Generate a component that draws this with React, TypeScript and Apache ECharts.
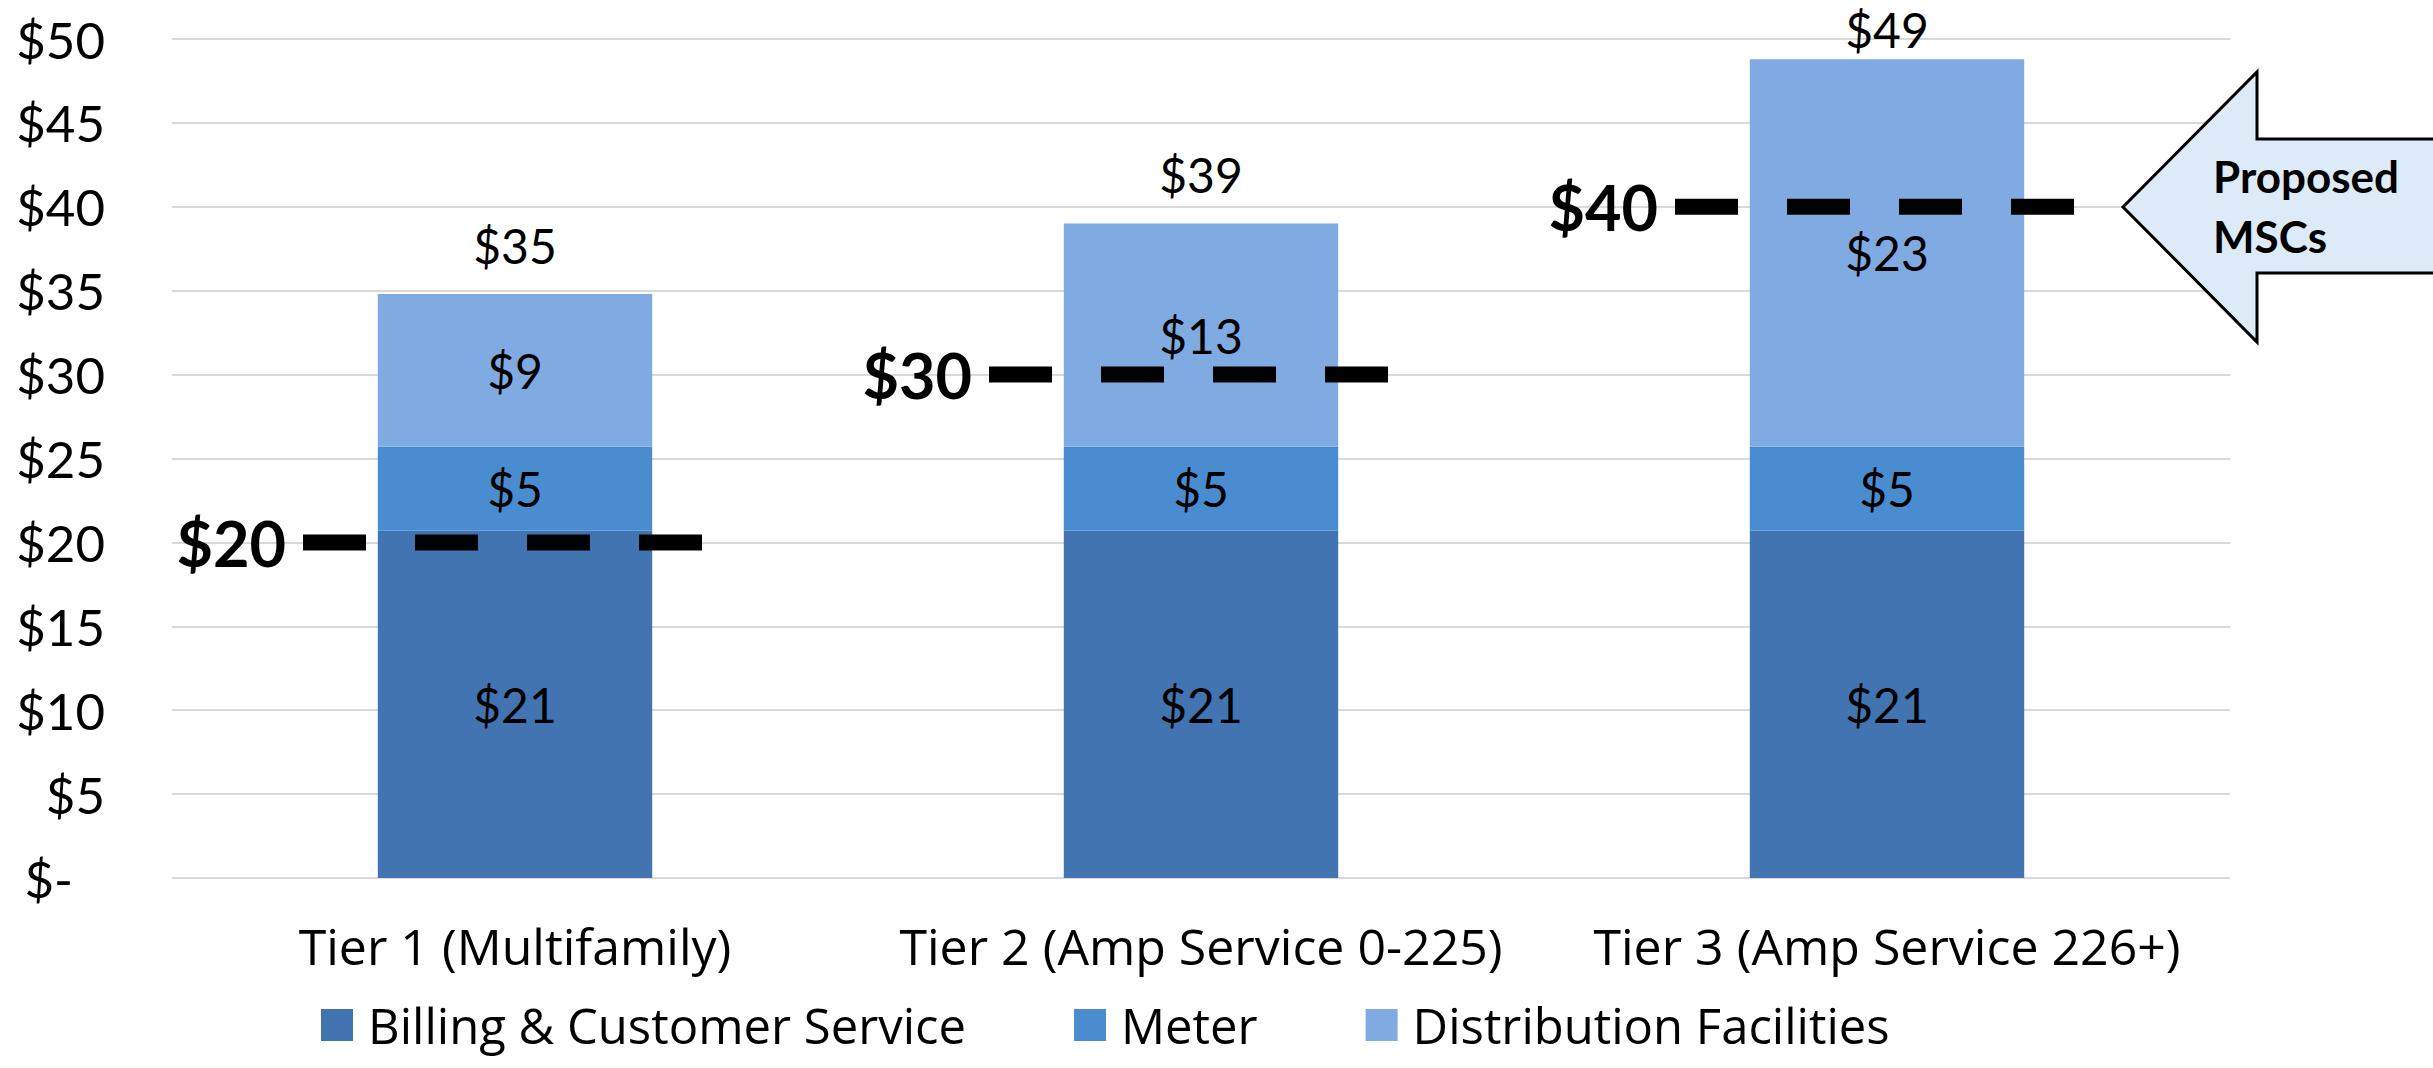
import React, { useEffect, useRef } from "react";
import * as echarts from "echarts";

const categories = ["Tier 1 (Multifamily)", "Tier 2 (Amp Service 0-225)", "Tier 3 (Amp Service 226+)"];
const billing = [20.7, 20.7, 20.7];
const meter = [5.0, 5.0, 5.0];
const distribution = [9.1, 13.3, 23.1];
const proposed = [20, 30, 40];
const seriesNames = ["Billing & Customer Service", "Meter", "Distribution Facilities"];
const colors = ["#4174B0", "#4A8CD0", "#80AAE2"];
const arrowText = "Proposed\nMSCs";

const FONT = "Lato";
const WIDE = "Open Sans";

export default function App() {
  const ref = useRef<HTMLDivElement>(null);
  useEffect(() => {
    const chart = echarts.init(ref.current!, null, { renderer: "svg" });
    const totals = categories.map((_, i) => billing[i] + meter[i] + distribution[i]);
    const money = (v: number) => "$" + Math.round(v);
    const barLabel = {
      show: true,
      position: "inside",
      color: "#000",
      fontSize: 48,
      fontFamily: FONT,
      formatter: (p: any) => money(p.value),
    };
    const mkBar = (name: string, data: number[], color: string) => ({
      name,
      type: "bar",
      stack: "total",
      data,
      barWidth: "40%",
      itemStyle: { color },
      label: barLabel,
    });
    const option: any = {
      animation: false,
      textStyle: { fontFamily: FONT },
      grid: { left: 172, right: 203, top: 39, bottom: 190, containLabel: false },
      legend: {
        data: seriesNames,
        left: 321,
        top: 1000,
        padding: 0,
        icon: "rect",
        itemWidth: 32,
        itemHeight: 32,
        itemGap: 108,
        textStyle: {
          fontSize: 49,
          lineHeight: 50,
          color: "#000",
          fontFamily: WIDE,
          padding: [0, 0, 0, 10],
        },
      },
      xAxis: {
        type: "category",
        data: categories,
        axisLine: { show: false },
        axisTick: { show: false },
        axisLabel: {
          interval: 0,
          fontSize: 50,
          lineHeight: 56,
          color: "#000",
          fontFamily: WIDE,
          margin: 40,
        },
      },
      yAxis: {
        type: "value",
        min: 0,
        max: 50,
        interval: 5,
        axisLine: { show: false },
        axisTick: { show: false },
        splitLine: { lineStyle: { color: "#D9D9D9", width: 2 } },
        axisLabel: {
          fontSize: 51,
          color: "#000",
          fontFamily: FONT,
          margin: 67,
          formatter: (v: number) => (v === 0 ? "{z|$-}" : "$" + v),
          rich: { z: { fontSize: 51, color: "#000", fontFamily: FONT, padding: [0, 32, 0, 0] } },
        },
      },
      series: [
        mkBar(seriesNames[0], billing, colors[0]),
        mkBar(seriesNames[1], meter, colors[1]),
        mkBar(seriesNames[2], distribution, colors[2]),
        {
          name: "totals",
          type: "custom",
          clip: false,
          z: 6,
          data: totals.map((t, i) => [i, t]),
          renderItem: (params: any, api: any) => {
            const p = api.coord([api.value(0), api.value(1)]);
            const y = Math.max(p[1] - 49, 29);
            return {
              type: "text",
              style: {
                text: money(api.value(1)),
                x: p[0],
                y,
                align: "center",
                verticalAlign: "middle",
                fontSize: 48,
                fontFamily: FONT,
                fill: "#000",
              },
            };
          },
        },
        {
          name: "proposed",
          type: "custom",
          clip: false,
          z: 7,
          data: proposed.map((v, i) => [i, v]),
          renderItem: (params: any, api: any) => {
            const p = api.coord([api.value(0), api.value(1)]);
            const band = api.size([1, 0])[0];
            const x1 = p[0] - band * 0.309;
            const x2 = x1 + 399;
            return {
              type: "group",
              children: [
                {
                  type: "line",
                  shape: { x1, y1: p[1], x2, y2: p[1] },
                  style: { stroke: "#000", lineWidth: 16, lineDash: [63, 49], lineCap: "butt" },
                },
                {
                  type: "text",
                  style: {
                    text: money(api.value(1)),
                    x: x1 - 17,
                    y: p[1],
                    align: "right",
                    verticalAlign: "middle",
                    fontSize: 63,
                    fontWeight: "bold",
                    fontFamily: FONT,
                    fill: "#000",
                  },
                },
              ],
            };
          },
        },
      ],
      graphic: [
        {
          type: "polygon",
          z: 100,
          shape: {
            points: [
              [2123, 207],
              [2257, 72],
              [2257, 139],
              [2450, 139],
              [2450, 273],
              [2257, 273],
              [2257, 342],
            ],
          },
          style: { fill: "#DDEBF8", stroke: "#000", lineWidth: 3 },
        },
        {
          type: "text",
          z: 101,
          x: 2213,
          y: 206,
          style: {
            text: arrowText,
            fontSize: 44,
            fontWeight: "bold",
            fontFamily: FONT,
            fill: "#000",
            lineHeight: 60,
            align: "left",
            verticalAlign: "middle",
          },
        },
      ],
    };
    chart.setOption(option);
    return () => chart.dispose();
  }, []);
  return (
    <div
      ref={ref}
      style={{ position: "fixed", left: 0, top: 0, width: 2433, height: 1068, background: "#fff" }}
    />
  );
}
